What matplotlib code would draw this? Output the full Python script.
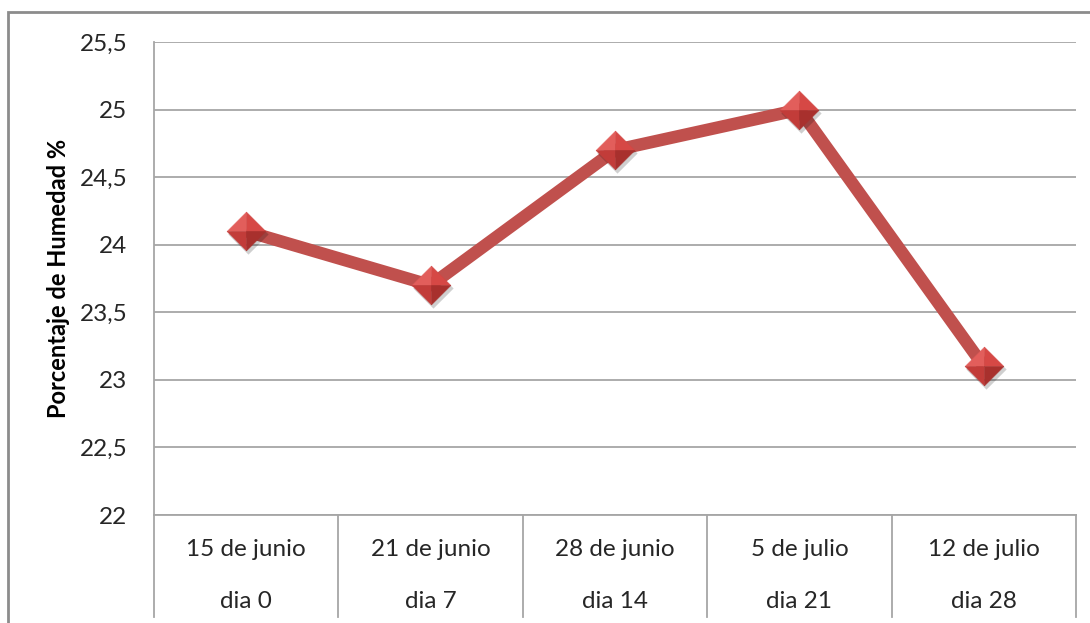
import matplotlib.pyplot as plt
from matplotlib.patches import Rectangle
import matplotlib.transforms as mtransforms

fechas = ["15 de junio", "21 de junio", "28 de junio", "5 de julio", "12 de julio"]
dias = ["dia 0", "dia 7", "dia 14", "dia 21", "dia 28"]
humedad = [24.1, 23.7, 24.7, 25.0, 23.1]
yticks = [22, 22.5, 23, 23.5, 24, 24.5, 25, 25.5]
ytick_labels = ["22", "22,5", "23", "23,5", "24", "24,5", "25", "25,5"]

plt.rcParams['font.family'] = ['Lato', 'DejaVu Sans']

W, H = 1090, 623
fig = plt.figure(figsize=(W / 100, H / 100), dpi=100)
ax = fig.add_axes([154 / W, (H - 515) / H, (1076 - 154) / W, (515 - 42) / H])

grid_c = '#a6a6a6'
x = list(range(len(humedad)))

# linea principal
ax.plot(x, humedad, color='#c0504d', lw=9, solid_capstyle='butt', zorder=3)

# marcadores en rombo con cuatro caras sombreadas
caras = [
    ([(0, 0), (-1, 0), (0, 1), (0, 0)], '#e25e5b'),
    ([(0, 0), (0, 1), (1, 0), (0, 0)], '#d64845'),
    ([(0, 0), (-1, 0), (0, -1), (0, 0)], '#c23c39'),
    ([(0, 0), (1, 0), (0, -1), (0, 0)], '#a8302d'),
]
ax.plot(x, humedad, ls='none', marker=[(0, 1), (1, 0), (0, -1), (-1, 0), (0, 1)],
        ms=29, mfc='#00000030', mec='none', zorder=4,
        transform=ax.transData + mtransforms.ScaledTranslation(2 / 100, -3 / 100, fig.dpi_scale_trans))
for verts, c in caras:
    ax.plot(x, humedad, ls='none', marker=verts, ms=28, mfc=c, mec=c, mew=0.3, zorder=5)

ax.set_xlim(-0.5, len(humedad) - 0.5)
ax.set_ylim(22, 25.5)
ax.set_yticks(yticks)
ax.set_yticklabels(ytick_labels, fontsize=17.5, color='#262626')
ax.tick_params(axis='y', length=0, pad=19)
ax.set_xticks([])
ax.yaxis.grid(True, color=grid_c, lw=1.3)
ax.set_axisbelow(True)

for s in ['top', 'right']:
    ax.spines[s].set_visible(False)
for s in ['left', 'bottom']:
    ax.spines[s].set_color(grid_c)
    ax.spines[s].set_linewidth(1.3)

# separadores de categorias bajo el eje
trans = mtransforms.blended_transform_factory(ax.transData, ax.transAxes)
for b in [i - 0.5 for i in range(len(humedad) + 1)]:
    ax.plot([b, b], [0, -102 / 473], color=grid_c, lw=1.3, transform=trans, clip_on=False)

for i in x:
    ax.text(i, -35 / 473, fechas[i], transform=trans, ha='center', va='center',
            fontsize=17.5, color='#262626')
    ax.text(i, -86 / 473, dias[i], transform=trans, ha='center', va='center',
            fontsize=17.5, color='#262626')

ax.set_ylabel('Porcentaje de Humedad %', fontsize=17, fontweight='bold', color='#000000')
ax.yaxis.set_label_coords(-84 / 922, 0.5)

# marco exterior
fig.patches.append(Rectangle((8 / W, -0.1), 1.2, (H - 12) / H + 0.1, transform=fig.transFigure,
                             fill=False, ec='#8c8c8c', lw=2))

fig.savefig('out.png', dpi=100)
